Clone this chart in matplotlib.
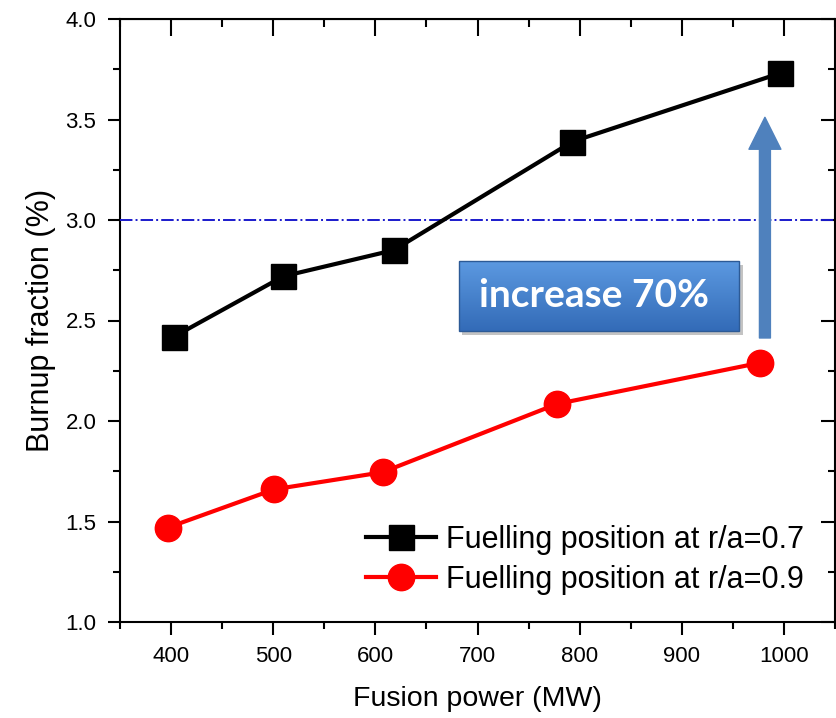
import numpy as np
import matplotlib
matplotlib.use("Agg")
import matplotlib.pyplot as plt
from matplotlib.ticker import MultipleLocator
from matplotlib.patches import Rectangle

# ---- data ----
power_07 = [403, 510, 618, 793, 996]
burnup_07 = [2.42, 2.72, 2.85, 3.39, 3.73]
power_09 = [397, 501, 607, 778, 977]
burnup_09 = [1.47, 1.66, 1.745, 2.085, 2.29]
label_07 = "Fuelling position at r/a=0.7"
label_09 = "Fuelling position at r/a=0.9"
threshold = 3.0
xticks = [400, 500, 600, 700, 800, 900, 1000]
yticks = [1.0, 1.5, 2.0, 2.5, 3.0, 3.5, 4.0]

plt.rcParams['font.family'] = ['Liberation Sans', 'DejaVu Sans']

fig = plt.figure(figsize=(8.36, 7.18), dpi=100)
ax = fig.add_axes([120/836, 96/718, 715/836, 603/718])

ax.plot(power_07, burnup_07, color='black', lw=3, marker='s', ms=18,
        label=label_07, zorder=5)
ax.plot(power_09, burnup_09, color='red', lw=3, marker='o', ms=19,
        label=label_09, zorder=5)
ax.axhline(threshold, color='#1a1acc', ls='-.', lw=1.4, zorder=3)

ax.set_xlim(350, 1050)
ax.set_ylim(1.0, 4.0)
ax.set_xticks(xticks)
ax.set_yticks(yticks)
ax.set_yticklabels([f"{v:.1f}" for v in yticks])
ax.xaxis.set_minor_locator(MultipleLocator(50))
ax.yaxis.set_minor_locator(MultipleLocator(0.25))
ax.tick_params(which='major', direction='out', length=9, width=1.5, labelsize=16, pad=8)
ax.tick_params(which='minor', direction='out', length=5, width=1.5)
for s in ax.spines.values():
    s.set_linewidth(1.5)

secx = ax.secondary_xaxis('top')
secx.set_xticks(xticks)
secx.xaxis.set_minor_locator(MultipleLocator(50))
secx.tick_params(which='major', direction='in', length=12, width=1.5, labeltop=False)
secx.tick_params(which='minor', direction='in', length=6, width=1.5)
secy = ax.secondary_yaxis('right')
secy.set_yticks(yticks)
secy.yaxis.set_minor_locator(MultipleLocator(0.25))
secy.tick_params(which='major', direction='in', length=10, width=1.5, labelright=False)
secy.tick_params(which='minor', direction='in', length=5, width=1.5)

ax.set_xlabel("Fusion power (MW)", fontsize=20.5, labelpad=14)
ax.set_ylabel("Burnup fraction (%)", fontsize=22, labelpad=7)

leg = ax.legend(loc='lower right', bbox_to_anchor=(0.956, 0.045), frameon=False,
                fontsize=22, handlelength=2.3, handletextpad=0.3,
                labelspacing=0.33, borderpad=0, borderaxespad=0)

# annotation box with gradient
bx0, bx1, by0, by1 = 0.474, 0.866, 0.483, 0.599
shadow = Rectangle((bx0 + 0.005, by0 - 0.007), bx1 - bx0, by1 - by0,
                   transform=ax.transAxes, color='#555555', alpha=0.35, zorder=6, lw=0)
ax.add_patch(shadow)
grad = np.linspace(0, 1, 100).reshape(-1, 1)
top_c = np.array([0.36, 0.60, 0.88])
bot_c = np.array([0.20, 0.42, 0.72])
img = top_c[None, None, :] * (1 - grad[:, :, None]) + bot_c[None, None, :] * grad[:, :, None]
ax.imshow(img, extent=(bx0, bx1, by0, by1), transform=ax.transAxes,
          aspect='auto', zorder=7, origin='upper')
ax.add_patch(Rectangle((bx0, by0), bx1 - bx0, by1 - by0, transform=ax.transAxes,
                       fill=False, edgecolor='#2c5a96', lw=1.0, zorder=8))
ax.text(0.663, 0.541, "increase 70%", transform=ax.transAxes, ha='center', va='center',
        fontsize=28, fontweight='bold', color='white', family=['Lato', 'DejaVu Sans'],
        zorder=9)

ax.annotate('', xy=(0.902, 0.837), xytext=(0.902, 0.471),
            xycoords='axes fraction', textcoords='axes fraction',
            arrowprops=dict(arrowstyle='simple,head_width=2.3,head_length=2.3,tail_width=0.79',
                            mutation_scale=10, color='#4f81bd', shrinkA=0, shrinkB=0),
            zorder=4)

ax.set_xlim(350, 1050)
ax.set_ylim(1.0, 4.0)

fig.savefig("out.png", dpi=100)
